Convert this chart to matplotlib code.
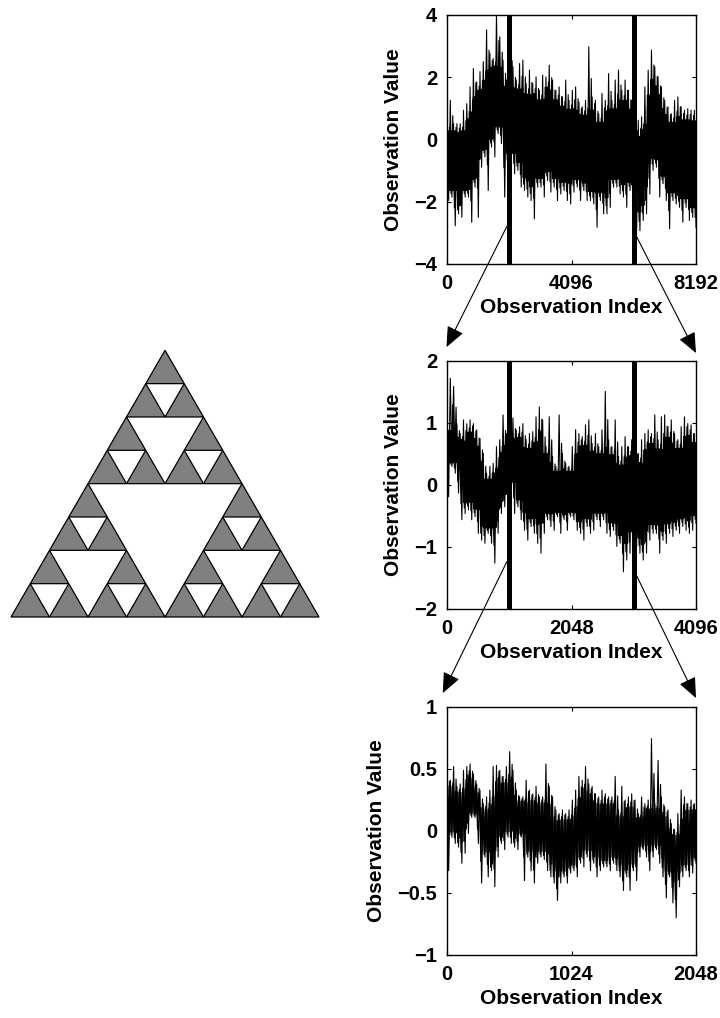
import matplotlib
matplotlib.use("Agg")
import matplotlib.pyplot as plt
from matplotlib.patches import Polygon, ConnectionPatch
import numpy as np

plt.rcParams['font.family'] = ['Liberation Sans', 'DejaVu Sans']
plt.rcParams['font.weight'] = 'bold'

# ---- data (upper / lower envelope of the trace, evenly spaced bins)
n1 = 8192
hi1 = [0.51, 1.26, 0.51, 0.51, 0.51, 0.94, 1.15, 1.69, 2.28, 1.85, 2.18, 2.50, 3.52, 2.77, 2.60, 4.00,
       3.30, 2.55, 1.91, 3.41, 2.34, 1.91, 2.44, 2.55, 1.80, 2.23, 1.80, 2.01, 1.58, 2.07, 2.01, 2.39,
       1.91, 1.58, 1.69, 1.37, 1.91, 1.26, 1.58, 1.69, 1.21, 1.05, 1.26, 2.98, 1.37, 1.26, 0.83, 1.48,
       1.26, 2.12, 1.26, 1.91, 2.23, 1.58, 1.91, 1.58, 1.26, 0.40, 0.62, 0.73, 1.69, 2.23, 2.87, 2.34,
       2.01, 1.69, 1.26, 1.05, 0.83, 1.26, 1.37, 1.05, 0.94, 0.99, 0.94, 0.94]
lo1 = [-1.96, -1.85, -2.77, -2.39, -2.50, -1.85, -1.85, -2.66, -1.53, -2.50, -0.89, -0.56, -1.64, -0.24,
       -0.56, 0.19, -0.13, -1.85, -0.89, -0.67, -1.10, -0.99, -1.53, -1.64, -1.85, -1.96, -2.55, -1.53,
       -1.53, -1.85, -1.32, -1.69, -1.53, -1.96, -1.75, -1.64, -1.96, -2.07, -1.69, -1.53, -1.96, -1.64,
       -1.96, -1.96, -2.07, -2.82, -1.96, -2.39, -2.39, -2.18, -1.53, -1.53, -1.75, -1.85, -2.18, -1.64,
       -1.85, -2.93, -2.93, -2.60, -2.39, -1.75, -0.99, -0.89, -1.85, -1.42, -1.96, -2.87, -1.96, -2.07,
       -2.18, -2.66, -2.18, -2.60, -2.50, -2.82]

n2 = 4096
hi2 = [0.94, 1.72, 1.59, 0.99, 0.83, 1.05, 0.99, 1.05, 0.99, 0.89, 0.75, 0.51, 0.19, 0.30, 0.35, 0.62,
       0.73, 1.13, 0.83, 0.83, 1.08, 0.89, 0.94, 0.99, 0.73, 0.83, 0.86, 1.10, 1.26, 1.05, 0.62, 1.10,
       0.46, 0.30, 1.13, 0.51, 0.35, 0.30, 0.62, 0.89, 0.83, 0.78, 0.97, 1.05, 0.67, 0.83, 0.62, 0.89,
       1.51, 0.73, 0.62, 1.05, 0.46, 0.62, 0.78, 0.62, 0.73, 0.62, 0.51, 0.73, 0.83, 0.89, 0.83, 1.13,
       0.73, 1.10, 1.13, 0.94, 1.05, 0.83, 0.73, 0.94, 1.10, 0.99, 0.97, 0.83]
lo2 = [-0.19, 0.30, 0.19, -0.13, -0.56, -0.46, -0.40, -0.56, -0.51, -0.78, -0.89, -0.94, -0.78, -0.94,
       -1.26, -0.78, -0.46, -0.35, -0.24, -0.03, -0.46, -0.35, -0.56, -0.73, -0.89, -0.67, -0.78, -0.94,
       -1.10, -0.78, -0.56, -0.67, -0.73, -0.51, -0.78, -0.56, -0.73, -0.51, -0.56, -0.73, -0.78, -0.89,
       -0.67, -0.78, -0.73, -0.56, -0.67, -0.56, -0.78, -0.83, -0.73, -0.99, -0.94, -1.40, -1.21, -1.10,
       -0.89, -0.99, -1.10, -1.21, -1.10, -0.89, -0.78, -0.78, -1.10, -0.89, -0.94, -0.78, -0.83, -0.73,
       -0.78, -0.67, -0.73, -0.78, -0.73, -0.62]

n3 = 2048
hi3 = [0.44, 0.41, 0.52, 0.36, 0.38, 0.49, 0.52, 0.54, 0.46, 0.38, 0.33, 0.22, 0.275, 0.33, 0.52, 0.53,
       0.49, 0.44, 0.52, 0.64, 0.49, 0.33, 0.275, 0.275, 0.41, 0.33, 0.30, 0.36, 0.275, 0.275, 0.54,
       0.36, 0.275, 0.17, 0.14, 0.17, 0.14, 0.17, 0.25, 0.33, 0.44, 0.41, 0.52, 0.38, 0.36, 0.30, 0.275,
       0.33, 0.30, 0.275, 0.275, 0.44, 0.17, 0.36, 0.25, 0.275, 0.30, 0.25, 0.14, 0.275, 0.22, 0.25,
       0.745, 0.22, 0.57, 0.275, 0.195, 0.17, 0.06, 0.01, 0.14, 0.33, 0.275, 0.22, 0.25, 0.22]
lo3 = [-0.32, -0.05, -0.10, -0.13, -0.26, -0.18, -0.02, 0.11, 0.11, -0.10, -0.42, -0.21, -0.37, -0.32,
       -0.45, -0.21, -0.10, -0.15, -0.05, -0.10, -0.13, -0.15, -0.05, -0.40, -0.21, -0.32, -0.42, -0.26,
       -0.21, -0.23, -0.32, -0.37, -0.42, -0.56, -0.42, -0.37, -0.42, -0.34, -0.32, -0.37, -0.26, -0.29,
       -0.21, -0.32, -0.26, -0.37, -0.32, -0.29, -0.29, -0.32, -0.26, -0.32, -0.37, -0.48, -0.37, -0.48,
       -0.32, -0.40, -0.21, -0.15, -0.21, -0.32, -0.21, -0.15, -0.26, -0.37, -0.54, -0.37, -0.58, -0.70,
       -0.45, -0.37, -0.32, -0.37, -0.34, -0.26]

bars1 = [2048, 6144]
bars2 = [1024, 3072]
xt1 = [0, 4096, 8192]
xt2 = [0, 2048, 4096]
xt3 = [0, 1024, 2048]
yt1 = [-4, -2, 0, 2, 4]
yt2 = [-2, -1, 0, 1, 2]
yt3 = [-1, -0.5, 0, 0.5, 1]
yl3 = ['\u22121', '\u22120.5', '0', '0.5', '1']
depth = 3

fig = plt.figure(figsize=(7.2, 10.18), dpi=100)

def zig(ax, n, top, bot, reps, shift, lw):
    top = np.repeat(top, reps)
    bot = np.repeat(bot, reps)
    ys = np.empty(2 * len(top))
    ys[0::2] = top
    ys[1::2] = bot
    xs = np.linspace(0, n, len(ys)) + shift * n / len(ys)
    ax.plot(xs, ys, color='k', lw=lw)

def trace(ax, n, hi, lo, reps=3, lw=1.0):
    hi = np.asarray(hi)
    lo = np.asarray(lo)
    # dense core: the part of the band shared by neighbouring bins
    hp = np.pad(hi, 1, mode='edge')
    lp = np.pad(lo, 1, mode='edge')
    core_hi = np.minimum(np.minimum(hp[:-2], hp[1:-1]), hp[2:])
    core_lo = np.maximum(np.maximum(lp[:-2], lp[1:-1]), lp[2:])
    core_hi = core_hi - 0.1 * (core_hi - core_lo)
    core_lo = core_lo + 0.1 * (core_hi - core_lo)
    mid_hi = (hi + core_hi) / 2
    mid_lo = (lo + core_lo) / 2
    zig(ax, n, core_hi, core_lo, reps, 0.5, lw)
    zig(ax, n, mid_lo, mid_hi, 1, 0.5, 0.8)
    zig(ax, n, hi, lo, 1, 0.0, 0.8)

def style(ax, n, xt, yt, ylim, ylabels=None):
    ax.set_xlim(0, n)
    ax.set_ylim(*ylim)
    ax.set_xticks(xt)
    ax.set_yticks(yt)
    if ylabels is not None:
        ax.set_yticklabels(ylabels)
    ax.tick_params(direction='in', top=True, right=True, length=3, width=0.8,
                   labelsize=14.5, pad=7)
    for t in ax.get_xticklabels() + ax.get_yticklabels():
        t.set_fontweight('bold')
    for s in ax.spines.values():
        s.set_linewidth(1.0)
    ax.set_xlabel('Observation Index', fontsize=15, fontweight='bold', labelpad=4)
    ax.set_ylabel('Observation Value', fontsize=15, fontweight='bold', labelpad=8)

ax1 = fig.add_axes([447/720, 1-264/1018, 249/720, 249/1018])
ax2 = fig.add_axes([447/720, 1-609/1018, 249/720, 248/1018])
ax3 = fig.add_axes([447/720, 1-955/1018, 249/720, 248/1018])

trace(ax1, n1, hi1, lo1)
trace(ax2, n2, hi2, lo2)
trace(ax3, n3, hi3, lo3, reps=2, lw=0.8)
for b in bars1:
    ax1.axvline(b, color='k', lw=3.6)
for b in bars2:
    ax2.axvline(b, color='k', lw=3.6)
style(ax1, n1, xt1, yt1, (-4, 4))
style(ax2, n2, xt2, yt2, (-2, 2))
style(ax3, n3, xt3, yt3, (-1, 1), yl3)

# arrows from the window bars to the corners of the next panel
arr = dict(arrowstyle='-|>,head_length=0.7,head_width=0.3', color='k', lw=0.8,
           mutation_scale=18, shrinkA=0, shrinkB=0)
for (xa, ya, ca, xb, yb) in [(bars1[0] - 82, -2.8, ax1, -0.002, 1.056),
                             (bars1[1] + 82, -3.1, ax1, 1.0, 1.032),
                             (bars2[0] - 41, -1.24, ax2, -0.017, 1.056),
                             (bars2[1] + 41, -1.45, ax2, 1.0, 1.036)]:
    nxt = ax2 if ca is ax1 else ax3
    cp = ConnectionPatch(xyA=(xa, ya), coordsA=ca.transData,
                         xyB=(xb, yb), coordsB=nxt.transAxes, **arr)
    fig.add_artist(cp)

# Sierpinski triangle
axs = fig.add_axes([11/720, 1-617/1018, 308/720, 266.7/1018])
axs.set_xlim(0, 1)
axs.set_ylim(0, np.sqrt(3)/2)
axs.axis('off')

def sierp(a, b, c, d):
    if d == 0:
        axs.add_patch(Polygon([a, b, c], closed=True, facecolor='#808080',
                              edgecolor='k', lw=0.9, clip_on=False))
        return
    ab = ((a[0]+b[0])/2, (a[1]+b[1])/2)
    bc = ((b[0]+c[0])/2, (b[1]+c[1])/2)
    ca = ((c[0]+a[0])/2, (c[1]+a[1])/2)
    sierp(a, ab, ca, d-1)
    sierp(ab, b, bc, d-1)
    sierp(ca, bc, c, d-1)

sierp((0, 0), (1, 0), (0.5, np.sqrt(3)/2), depth)

fig.savefig('out.png', dpi=100)
